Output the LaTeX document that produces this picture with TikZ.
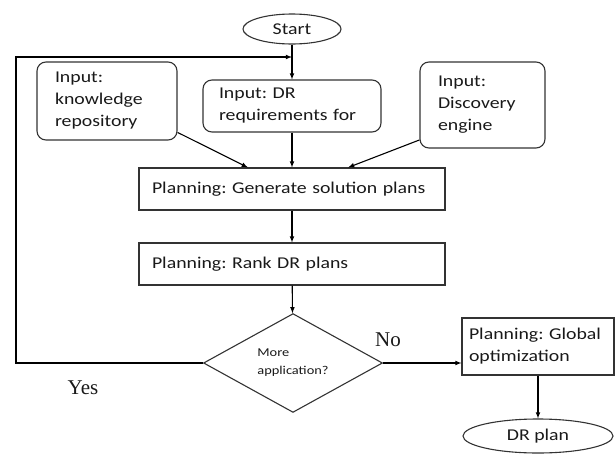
\documentclass[tikz,border=0pt]{standalone}
\usepackage{fontspec}
\setmainfont{Carlito}[FakeStretch=1.2]
\newfontfamily\timesfont{Liberation Serif}
\usetikzlibrary{shapes.geometric, arrows}
\usetikzlibrary{positioning,calc}

\begin{document}
\frenchspacing
\begin{tikzpicture}[x=1pt,y=-1pt]
	%defines
	\tikzstyle{terminal} = [ellipse, draw=black!80, line width=1.1pt, inner sep=0pt, text=black!90, font=\fontsize{16.5}{22}\selectfont]
	\tikzstyle{input} = [rectangle, rounded corners=9pt, draw=black!80, line width=1.1pt, align=left, inner ysep=0pt, text=black!90, font=\fontsize{16.5}{22}\selectfont]
	\tikzstyle{planning} = [rectangle, draw=black!80, line width=1.1pt, align=left, inner ysep=0pt, text=black!90, font=\fontsize{16.5}{22}\selectfont]
	\tikzstyle{decision} = [diamond, draw=black!80, line width=1.1pt, align=left, inner sep=0pt, minimum width=179pt, minimum height=90pt, text=black!90, font=\fontsize{12}{18}\selectfont]
	\tikzstyle{answer} = [text=black!90, font=\timesfont\fontsize{21}{21}\selectfont]
	\tikzstyle{arrow} = [line width=1.1pt,->,>=latex]
	\useasboundingbox (0,0) rectangle (616,453);
	%chart
	\node (start) [terminal, minimum width=98pt, minimum height=30pt] at (292,29) {Start};
	\node (inputKnowledge) [input, text width=104pt, inner xsep=18pt, minimum height=78pt] at (107,101) {Input:\\knowledge\\repository};
	\node (inputRequirements) [input, text width=146pt, inner xsep=16pt, minimum height=52pt] at (292,106) {Input: DR\\requirements for};
	\node (inputDiscovery) [input, text width=89pt, inner xsep=18pt, minimum height=86pt] at (482.5,105) {Input:\\Discovery\\engine};
	\node (generatePlans) [planning, text width=280pt, inner xsep=13pt, minimum height=42pt] at (292,189) {Planning: Generate solution plans};
	\node (rankPlans) [planning, text width=280pt, inner xsep=13pt, minimum height=42pt] at (292,264) {Planning: Rank DR plans};
	\node (moreApplication) [decision] at (293,363) {More\\application?};
	\node (globalOptimization) [planning, text width=138pt, inner xsep=7pt, minimum height=57pt] at (538,346.5) {Planning: Global\\optimization};
	\node (drPlan) [terminal, minimum width=150pt, minimum height=34pt] at (538,436) {DR plan};
	\node (noLabel) [answer] at (388,340) {No};
	\node (yesLabel) [answer] at (83,388) {Yes};
	\coordinate (loopCorner) at (16,57);
	\coordinate (loopEnd) at (292,57);
	\draw [arrow] (start) -- (inputRequirements);
	\draw [arrow] (inputKnowledge.-24) -- (generatePlans.154);
	\draw [arrow] (inputRequirements) -- (generatePlans);
	\draw [arrow] (inputDiscovery.209) -- (generatePlans.21);
	\draw [arrow] (generatePlans) -- (rankPlans);
	\draw [arrow] (rankPlans) -- (moreApplication);
	\draw [arrow] (moreApplication.west) -| (loopCorner) -- (loopEnd);
	\draw [arrow] (moreApplication.east) -- (moreApplication.east -| globalOptimization.west);
	\draw [arrow] (globalOptimization) -- (drPlan);
\end{tikzpicture}
\end{document}
